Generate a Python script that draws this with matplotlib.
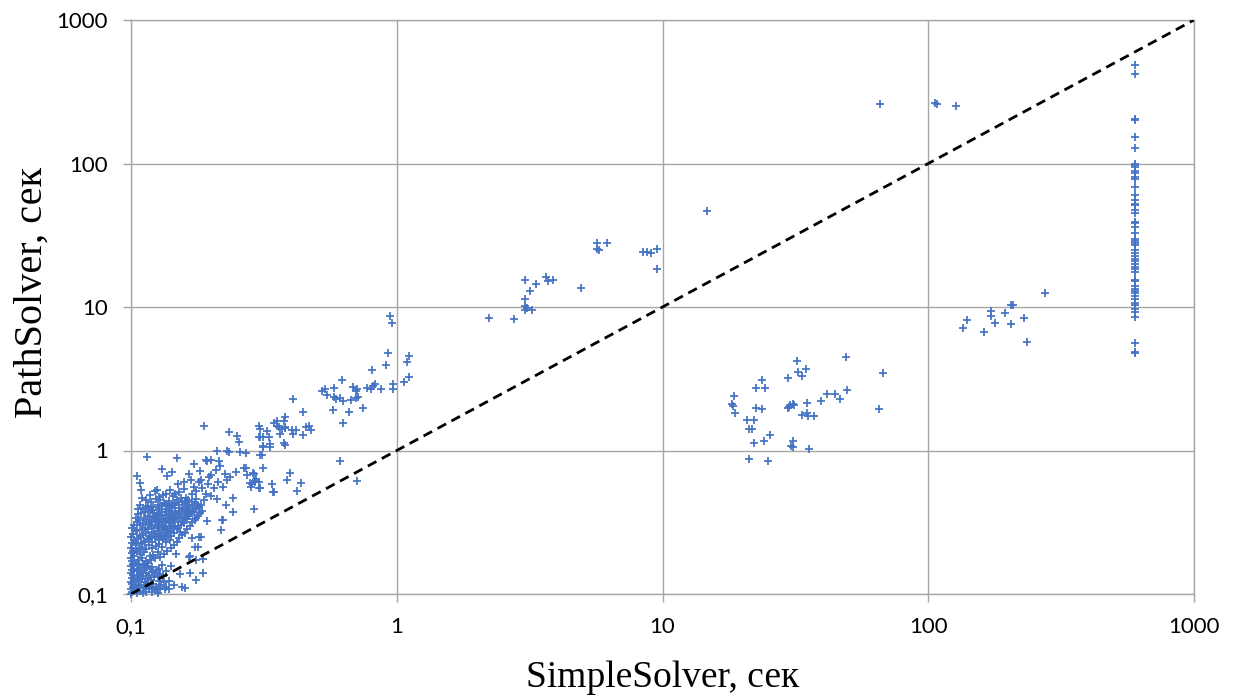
import numpy as np
import matplotlib
matplotlib.use('Agg')
import matplotlib.pyplot as plt
from matplotlib.ticker import FixedLocator, NullLocator

# solver times (seconds)
# dense group of fast instances
fast_left = [(0.100, 0.100), (0.101, 0.104), (0.100, 0.108), (0.102, 0.112), (0.101, 0.117),
             (0.100, 0.121), (0.103, 0.125), (0.101, 0.130), (0.102, 0.135), (0.100, 0.140),
             (0.101, 0.146), (0.103, 0.150), (0.100, 0.157), (0.102, 0.163), (0.101, 0.170),
             (0.100, 0.178), (0.103, 0.185), (0.101, 0.192), (0.102, 0.200), (0.100, 0.210),
             (0.104, 0.218), (0.101, 0.228), (0.103, 0.238), (0.100, 0.250), (0.102, 0.262),
             (0.104, 0.275), (0.101, 0.290), (0.103, 0.305), (0.105, 0.320), (0.104, 0.340),
             (0.106, 0.360)]
fast_low = [(0.105, 0.102), (0.108, 0.105), (0.111, 0.101), (0.114, 0.104), (0.117, 0.108),
            (0.120, 0.103), (0.123, 0.106), (0.126, 0.101), (0.106, 0.112), (0.109, 0.116),
            (0.112, 0.111), (0.115, 0.119), (0.118, 0.114), (0.121, 0.118), (0.124, 0.112),
            (0.107, 0.123), (0.110, 0.127), (0.113, 0.122), (0.116, 0.129), (0.119, 0.125),
            (0.122, 0.131), (0.127, 0.124), (0.105, 0.134), (0.108, 0.138), (0.111, 0.133),
            (0.114, 0.141), (0.117, 0.136), (0.120, 0.143), (0.106, 0.148), (0.109, 0.152),
            (0.112, 0.146), (0.115, 0.155), (0.118, 0.150), (0.107, 0.160), (0.111, 0.163),
            (0.130, 0.115), (0.133, 0.121), (0.136, 0.112), (0.129, 0.137), (0.125, 0.146),
            (0.125, 0.109), (0.129, 0.109), (0.134, 0.109), (0.139, 0.109), (0.145, 0.116),
            (0.112, 0.110), (0.117, 0.110), (0.120, 0.110), (0.139, 0.123), (0.126, 0.133),
            (0.132, 0.133), (0.156, 0.112), (0.160, 0.110), (0.141, 0.157), (0.153, 0.138),
            (0.175, 0.125), (0.167, 0.141), (0.187, 0.139)]
fast_main = [(0.106, 0.172), (0.110, 0.178), (0.114, 0.171), (0.118, 0.183), (0.108, 0.190),
             (0.112, 0.195), (0.121, 0.188), (0.126, 0.196), (0.105, 0.200), (0.107, 0.205),
             (0.110, 0.212), (0.114, 0.207), (0.117, 0.219), (0.120, 0.210), (0.124, 0.216),
             (0.128, 0.222), (0.131, 0.212), (0.109, 0.226), (0.113, 0.232), (0.116, 0.240),
             (0.120, 0.229), (0.123, 0.245), (0.127, 0.236), (0.132, 0.242), (0.136, 0.230),
             (0.140, 0.238), (0.106, 0.245), (0.108, 0.252), (0.111, 0.258), (0.114, 0.264),
             (0.117, 0.255), (0.120, 0.270), (0.123, 0.260), (0.126, 0.276), (0.129, 0.262),
             (0.132, 0.281), (0.135, 0.268), (0.138, 0.258), (0.141, 0.275), (0.145, 0.265),
             (0.149, 0.283), (0.110, 0.280), (0.113, 0.290), (0.116, 0.285), (0.119, 0.296),
             (0.122, 0.288), (0.125, 0.298), (0.128, 0.290), (0.131, 0.300), (0.134, 0.292),
             (0.137, 0.285), (0.140, 0.296), (0.144, 0.290), (0.153, 0.270), (0.108, 0.305),
             (0.111, 0.312), (0.114, 0.320), (0.117, 0.308), (0.120, 0.325), (0.123, 0.315),
             (0.126, 0.330), (0.129, 0.318), (0.132, 0.335), (0.135, 0.322), (0.138, 0.340),
             (0.141, 0.312), (0.144, 0.328), (0.147, 0.345), (0.150, 0.318), (0.153, 0.336),
             (0.157, 0.325), (0.160, 0.345), (0.112, 0.340), (0.116, 0.350), (0.121, 0.345),
             (0.125, 0.356), (0.130, 0.350), (0.136, 0.358), (0.143, 0.352), (0.149, 0.360),
             (0.155, 0.352), (0.162, 0.332), (0.109, 0.365), (0.113, 0.372), (0.118, 0.380),
             (0.122, 0.368), (0.127, 0.385), (0.131, 0.372), (0.135, 0.390), (0.139, 0.376),
             (0.143, 0.395), (0.147, 0.380), (0.151, 0.398), (0.155, 0.385), (0.159, 0.372),
             (0.163, 0.392), (0.167, 0.380), (0.111, 0.400), (0.116, 0.410), (0.121, 0.402),
             (0.126, 0.418), (0.131, 0.408), (0.136, 0.425), (0.141, 0.412), (0.146, 0.430),
             (0.151, 0.418), (0.156, 0.438), (0.161, 0.422), (0.166, 0.410), (0.171, 0.400),
             (0.119, 0.440), (0.129, 0.450), (0.139, 0.445), (0.149, 0.455), (0.159, 0.448),
             (0.169, 0.440), (0.110, 0.470), (0.118, 0.490), (0.127, 0.475), (0.135, 0.500),
             (0.144, 0.480), (0.152, 0.510), (0.161, 0.470), (0.170, 0.495), (0.176, 0.460),
             (0.123, 0.520), (0.140, 0.530), (0.158, 0.540), (0.125, 0.530), (0.148, 0.190),
             (0.167, 0.184), (0.165, 0.180), (0.186, 0.174), (0.175, 0.172), (0.178, 0.214),
             (0.174, 0.214), (0.180, 0.250), (0.184, 0.250), (0.170, 0.245)]
fast_fill = [(0.112, 0.235), (0.118, 0.248), (0.124, 0.252), (0.130, 0.255), (0.134, 0.250),
             (0.138, 0.270), (0.142, 0.255), (0.146, 0.300), (0.150, 0.295), (0.154, 0.305),
             (0.158, 0.310), (0.162, 0.360), (0.165, 0.350), (0.168, 0.365), (0.172, 0.375),
             (0.176, 0.390), (0.180, 0.405), (0.184, 0.420), (0.174, 0.430), (0.164, 0.455),
             (0.154, 0.470), (0.146, 0.500), (0.132, 0.490), (0.124, 0.460), (0.114, 0.450),
             (0.108, 0.420), (0.106, 0.390), (0.107, 0.330), (0.105, 0.280), (0.104, 0.225),
             (0.103, 0.195), (0.104, 0.165), (0.105, 0.145), (0.104, 0.115), (0.103, 0.108),
             (0.106, 0.128), (0.109, 0.142), (0.113, 0.158), (0.116, 0.165), (0.120, 0.155),
             (0.123, 0.140), (0.128, 0.150), (0.131, 0.160), (0.135, 0.145), (0.119, 0.172),
             (0.123, 0.178), (0.129, 0.182), (0.133, 0.190), (0.137, 0.200), (0.141, 0.210),
             (0.145, 0.220), (0.149, 0.230), (0.152, 0.245), (0.156, 0.258), (0.160, 0.268),
             (0.163, 0.285), (0.167, 0.300), (0.170, 0.318), (0.174, 0.330), (0.178, 0.350),
             (0.182, 0.365), (0.127, 0.305), (0.133, 0.315), (0.139, 0.325), (0.145, 0.335),
             (0.118, 0.330), (0.124, 0.340), (0.128, 0.365), (0.134, 0.375), (0.140, 0.360),
             (0.146, 0.368), (0.152, 0.375), (0.158, 0.400), (0.164, 0.415), (0.138, 0.410),
             (0.144, 0.418), (0.133, 0.430), (0.128, 0.395), (0.120, 0.385), (0.114, 0.395)]
fast_upper = [(0.165, 0.69), (0.173, 0.81), (0.182, 0.72), (0.183, 0.62), (0.180, 0.60),
              (0.196, 0.65), (0.200, 0.67), (0.209, 0.73), (0.216, 0.78), (0.191, 0.86),
              (0.131, 0.74), (0.143, 0.71), (0.137, 0.66), (0.105, 0.66), (0.108, 0.59),
              (0.109, 0.53), (0.175, 0.52), (0.185, 0.55), (0.192, 0.50), (0.178, 0.42),
              (0.188, 0.45), (0.195, 0.58), (0.205, 0.55), (0.212, 0.60), (0.222, 0.56),
              (0.230, 0.62), (0.172, 0.56), (0.168, 0.62), (0.158, 0.60), (0.150, 0.58),
              (0.200, 0.48), (0.210, 0.46), (0.185, 0.38), (0.176, 0.34), (0.166, 0.36),
              (0.249, 0.71), (0.236, 0.65), (0.225, 0.685), (0.242, 0.47), (0.242, 0.373),
              (0.228, 0.42), (0.220, 0.33), (0.222, 0.33), (0.194, 0.325), (0.218, 0.28)]
# instances between 0.1 s and ~1 s
mid_pts = [(0.189, 1.49), (0.115, 0.906), (0.149, 0.89), (0.210, 1.0), (0.194, 0.85),
           (0.200, 0.86), (0.215, 0.85), (0.229, 1.0), (0.233, 0.98), (0.257, 0.98),
           (0.271, 0.955), (0.234, 1.35), (0.250, 1.26), (0.256, 1.15), (0.303, 1.47),
           (0.307, 1.42), (0.304, 1.25), (0.313, 1.25), (0.330, 1.25), (0.315, 1.08),
           (0.333, 1.11), (0.307, 0.925), (0.313, 0.755), (0.378, 1.13), (0.345, 1.55),
           (0.355, 1.47), (0.370, 1.42), (0.381, 1.44), (0.397, 0.70), (0.385, 0.62),
           (0.437, 0.59), (0.420, 0.525), (0.290, 0.389), (0.343, 0.514), (0.272, 0.755),
           (0.290, 0.685), (0.295, 0.63), (0.293, 0.60), (0.303, 0.60), (0.304, 0.55),
           (0.284, 0.56), (0.940, 8.66), (0.957, 7.78), (0.925, 4.76), (0.908, 3.96),
           (1.11, 4.58), (1.09, 4.14), (1.11, 3.25), (1.064, 3.02), (0.970, 2.92),
           (0.968, 2.68), (0.870, 2.67), (0.828, 2.89), (0.812, 2.82), (0.798, 2.70),
           (0.771, 2.71), (0.807, 3.64), (0.745, 1.98), (0.621, 3.10), (0.582, 2.71),
           (0.583, 2.37), (0.590, 2.28), (0.612, 2.34), (0.626, 2.22), (0.577, 1.90),
           (0.659, 1.84), (0.626, 1.56), (0.537, 2.67), (0.524, 2.60), (0.548, 2.44),
           (0.683, 2.76), (0.707, 2.70), (0.700, 2.60), (0.703, 2.34), (0.715, 2.37),
           (0.671, 2.25), (0.408, 2.30), (0.445, 1.84), (0.355, 1.61), (0.360, 1.45),
           (0.381, 1.70), (0.378, 1.61), (0.364, 1.30), (0.381, 1.45), (0.403, 1.39),
           (0.408, 1.30), (0.418, 1.39), (0.445, 1.28), (0.455, 1.45), (0.469, 1.47),
           (0.477, 1.39), (0.379, 1.10), (0.333, 1.06), (0.313, 1.05), (0.306, 1.25),
           (0.310, 0.925), (0.324, 1.36), (0.266, 0.755), (0.274, 0.672), (0.289, 0.70),
           (0.292, 0.61), (0.281, 0.597), (0.286, 0.58), (0.306, 0.545), (0.340, 0.584),
           (0.346, 0.514), (0.612, 0.849), (0.710, 0.61)]
# 1..10 s for SimpleSolver
slow_a = [(5.68, 27.8), (6.17, 27.8), (5.68, 25.2), (5.75, 24.9), (8.47, 24.0), (8.72, 24.2),
          (9.05, 23.8), (9.54, 25.4), (9.50, 18.3), (4.92, 13.5), (3.05, 15.3), (3.64, 16.3),
          (3.72, 15.1), (3.88, 15.3), (3.34, 14.5), (3.17, 12.9), (3.05, 11.3), (3.05, 10.2),
          (3.09, 9.9), (3.05, 9.5), (3.23, 9.5), (2.22, 8.34), (2.75, 8.2), (14.7, 47.0),
          (66.0, 260.0), (106.0, 262.0), (108.0, 261.0), (127.0, 252.0)]
# PathSolver faster: 20..70 s
slow_b = [(32.0, 4.22), (49.2, 4.46), (67.6, 3.49), (65.3, 1.96), (32.3, 3.52), (34.7, 3.68),
          (33.5, 3.31), (29.7, 3.20), (23.7, 3.12), (22.4, 2.74), (24.3, 2.74), (18.5, 2.40),
          (18.2, 2.11), (18.4, 2.04), (18.8, 1.82), (22.4, 1.97), (23.7, 1.94), (20.8, 1.62),
          (22.1, 1.62), (21.2, 1.42), (21.8, 1.41), (25.4, 1.29), (24.0, 1.16), (22.1, 1.12),
          (21.2, 0.873), (24.9, 0.845), (29.7, 1.97), (30.2, 2.07), (30.9, 2.10), (31.3, 2.07),
          (29.8, 2.02), (35.0, 2.15), (33.5, 1.77), (35.1, 1.83), (35.3, 1.75), (37.2, 1.73),
          (30.9, 1.17), (30.4, 1.07), (31.0, 1.05), (35.5, 1.03), (39.4, 2.22), (41.5, 2.49),
          (44.6, 2.48), (46.4, 2.28), (49.4, 2.63)]
# 130..280 s
slow_c = [(275.0, 12.6), (204.0, 10.3), (209.0, 10.4), (172.0, 9.33), (172.0, 8.61),
          (140.0, 8.12), (135.0, 7.10), (162.0, 6.70), (178.0, 7.78), (194.0, 9.14),
          (204.0, 7.62), (229.0, 8.42), (235.0, 5.70)]
# SimpleSolver hit the 600 s limit
timeout_x = 600.0
timeout_y = [483, 421, 205, 201, 152, 128, 100, 98, 95.0, 89.1, 85.5, 80.9, 77.6, 68.2, 60.0,
             55.7, 52.2, 51.2, 47.4, 45.4, 39.3, 38.7, 36.3, 33.0, 29.9, 29.0, 27.8, 26.9,
             24.9, 23.7, 22.7, 21.7, 20.8, 19.9, 19.1, 18.3, 17.5, 15.4, 15.1, 14.0, 13.4,
             13.0, 12.5, 11.9, 11.3, 10.6, 10.3, 9.73, 9.23, 8.57, 5.64, 4.86, 4.75]

ticks = [0.1, 1, 10, 100, 1000]
tick_labels = ['0,1', '1', '10', '100', '1000']

pts = (fast_left + fast_low + fast_main + fast_fill + fast_upper + mid_pts
       + slow_a + slow_b + slow_c)
xs = [p[0] for p in pts] + [timeout_x] * len(timeout_y)
ys = [p[1] for p in pts] + list(timeout_y)

fig = plt.figure(figsize=(12.38, 6.97), dpi=100)
ax = fig.add_axes([131 / 1238, 1 - 594 / 697, 1063 / 1238, 574 / 697])

grid_c = '#a6a6a6'
ax.set_xscale('log')
ax.set_yscale('log')
ax.set_xlim(0.1, 1000)
ax.set_ylim(0.1, 1000)

ax.plot(xs, ys, linestyle='none', marker='+', markersize=5.5, markeredgewidth=1.25,
        color='#4472C4', zorder=3, clip_on=False)
ax.plot([0.1, 1000], [0.1, 1000], color='black', linewidth=2.0,
        linestyle=(0, (3.5, 2.2)), zorder=4)

ax.xaxis.set_major_locator(FixedLocator(ticks))
ax.yaxis.set_major_locator(FixedLocator(ticks))
ax.xaxis.set_minor_locator(NullLocator())
ax.yaxis.set_minor_locator(NullLocator())
ax.set_xticklabels(tick_labels, family='Lato', fontsize=16)
ax.set_yticklabels(tick_labels, family='Lato', fontsize=16)
ax.tick_params(axis='both', which='major', length=5.5, width=1.0, color=grid_c,
               direction='out', pad=11, labelcolor='black')

ax.grid(True, which='major', color=grid_c, linewidth=1.0)
ax.set_axisbelow(True)
for s in ax.spines.values():
    s.set_color(grid_c)
    s.set_linewidth(1.0)

fig.text(663 / 1238, 1 - 687 / 697, 'SimpleSolver, сек', family='Liberation Serif',
         fontsize=27, ha='center', va='baseline')
fig.text(42 / 1238, 1 - 292 / 697, 'PathSolver, сек', family='Liberation Serif',
         fontsize=29, ha='center', va='baseline', rotation=90, rotation_mode='anchor')

fig.savefig('out.png', dpi=100)
